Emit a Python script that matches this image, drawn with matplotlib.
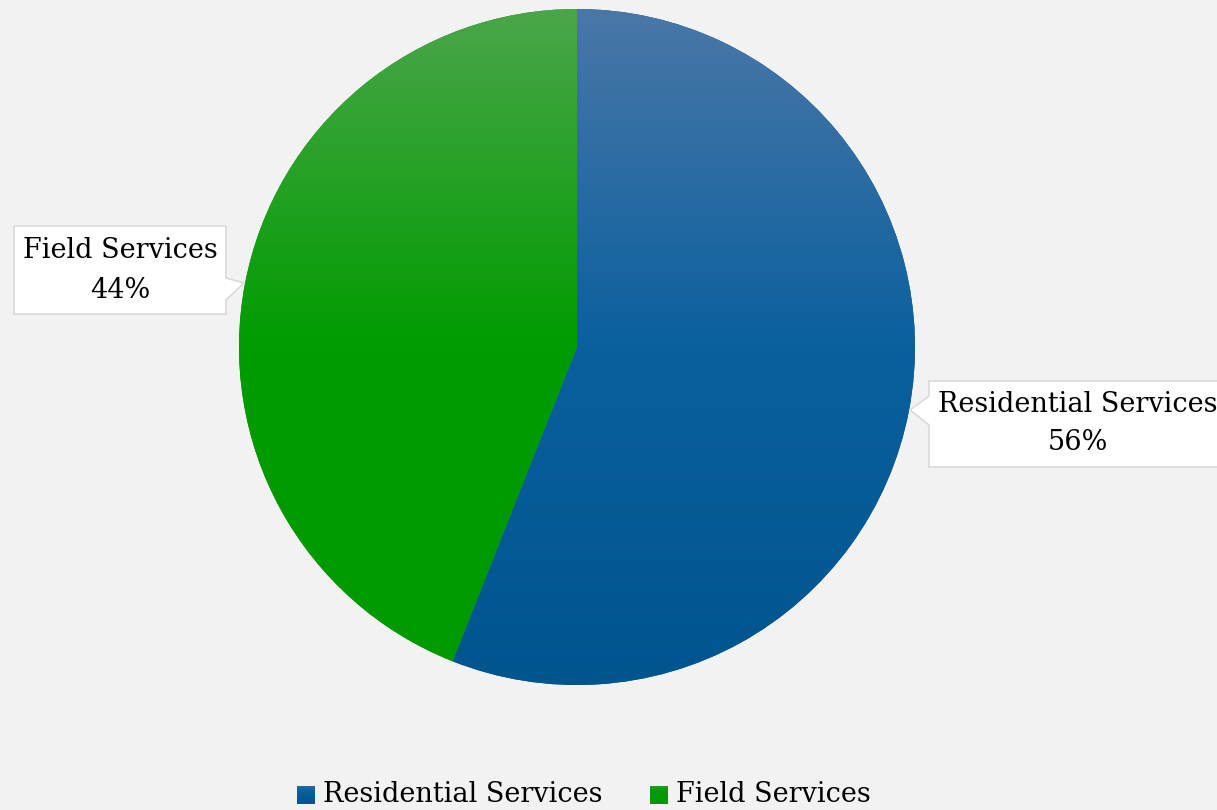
import numpy as np
import matplotlib
matplotlib.use("Agg")
import matplotlib.pyplot as plt
from matplotlib.colors import LinearSegmentedColormap
from matplotlib.patches import Polygon

categories = ["Residential Services", "Field Services"]
values = [56, 44]
labels_pct = ["56%", "44%"]
base_colors = ["#00558f", "#009900"]
grad_stops = [["#4a77a8", "#0a609e", "#00558f"],
              ["#4aa64a", "#009c00", "#009900"]]

W, H = 1217, 810
fig = plt.figure(figsize=(W / 100, H / 100), dpi=100)
fig.patch.set_facecolor("#f2f2f2")
ax = fig.add_axes([0, 0, 1, 1])
ax.set_facecolor("#f2f2f2")

cx, cy, r = 577, H - 347, 338
wedges, _ = ax.pie(values, colors=base_colors, startangle=90, counterclock=False,
                   center=(cx, cy), radius=r, frame=True,
                   wedgeprops=dict(linewidth=0))
ax.set_xlim(0, W)
ax.set_ylim(0, H)
ax.axis("off")

for w, stops in zip(wedges, grad_stops):
    cmap = LinearSegmentedColormap.from_list("g", list(zip([0, 0.5, 1], stops)))
    grad = np.linspace(0, 1, 256).reshape(-1, 1)
    im = ax.imshow(grad, cmap=cmap, aspect="auto",
                   extent=(cx - r, cx + r, cy - r, cy + r), origin="upper", zorder=2)
    im.set_clip_path(w)

font = ["DejaVu Serif"]
fs = 19.5

# callout boxes
box_ec = "#d9d9d9"
res_box = [(929, H - 381), (1230, H - 381), (1230, H - 467), (929, H - 467),
           (929, H - 425), (910, H - 410), (929, H - 396)]
fld_box = [(14, H - 226), (226, H - 226), (226, H - 278), (244, H - 283),
           (226, H - 300), (226, H - 314), (14, H - 314)]
for pts in (res_box, fld_box):
    ax.add_patch(Polygon(pts, closed=True, facecolor="white", edgecolor=box_ec,
                         linewidth=1.2, zorder=3))

ax.text(1078, H - 405, categories[0], ha="center", va="center", fontsize=fs,
        family=font, zorder=4)
ax.text(1078, H - 443, labels_pct[0], ha="center", va="center", fontsize=fs,
        family=font, zorder=4)
ax.text(120, H - 251, categories[1], ha="center", va="center", fontsize=fs,
        family=font, zorder=4)
ax.text(120, H - 290, labels_pct[1], ha="center", va="center", fontsize=fs,
        family=font, zorder=4)

# legend
leg_x = [297, 650]
for lx, cat, stops in zip(leg_x, categories, grad_stops):
    cmap = LinearSegmentedColormap.from_list("g", list(zip([0, 0.5, 1], stops)))
    grad = np.linspace(0.3, 1, 32).reshape(-1, 1)
    ax.imshow(grad, cmap=cmap, vmin=0, vmax=1, aspect="auto",
              extent=(lx, lx + 18, H - 804, H - 786), origin="upper", zorder=4)
    ax.text(lx + 26, H - 794, cat, ha="left", va="center", fontsize=fs,
            family=font, zorder=4)

ax.set_xlim(0, W)
ax.set_ylim(0, H)
fig.savefig("out.png", dpi=100, facecolor=fig.get_facecolor())
